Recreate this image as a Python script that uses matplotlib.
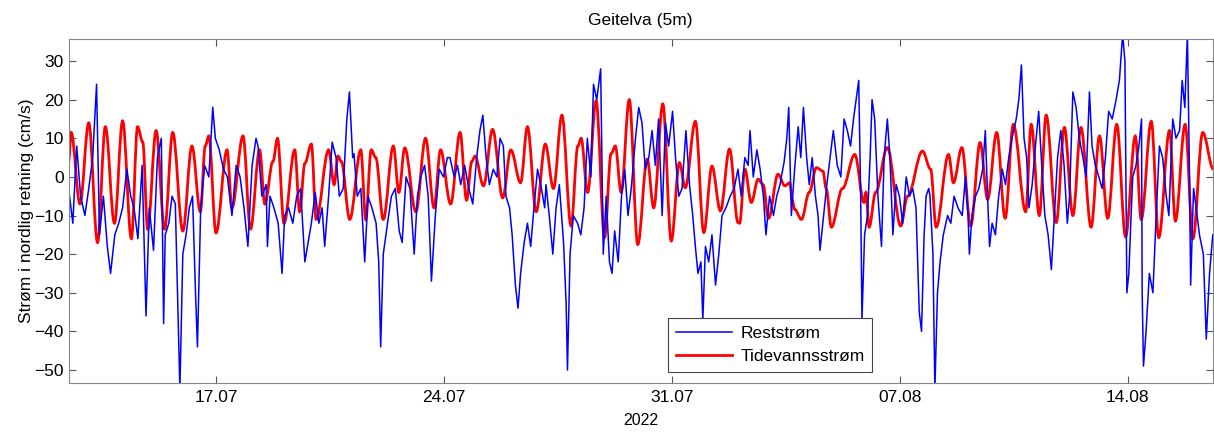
import numpy as np
import pandas as pd
import matplotlib
matplotlib.use('Agg')
import matplotlib.pyplot as plt
import matplotlib.dates as mdates
from matplotlib.path import Path
from matplotlib.patches import PathPatch
from matplotlib.lines import Line2D

plt.rcParams['font.family'] = ['Liberation Sans', 'DejaVu Sans']

# # Data (days after 12.07.2022 00:00, values in cm/s)

start = pd.Timestamp('2022-07-12')

rest_days = [
    0.46, 0.59, 0.71, 0.83, 0.96, 1.08, 1.20, 1.32, 1.41, 1.53, 1.65, 1.75, 1.88, 2.00, 2.12, 2.25,
    2.37, 2.47, 2.59, 2.72, 2.84, 2.94, 3.07, 3.19, 3.31, 3.38,
    3.43, 3.54, 3.64, 3.74, 3.88, 3.97, 4.07, 4.17, 4.27, 4.36, 4.42, 4.52, 4.64, 4.77, 4.89, 4.97,
    5.09, 5.22, 5.34, 5.48, 5.61, 5.73, 5.85, 5.97, 6.10, 6.22,
    6.28, 6.40, 6.53, 6.57, 6.65, 6.77, 6.90, 7.02, 7.10, 7.22, 7.35, 7.47, 7.59, 7.72, 7.82, 7.92,
    8.04, 8.15, 8.25, 8.33, 8.45, 8.56, 8.68, 8.78, 8.90, 9.01, 9.09, 9.19,
    9.23, 9.33, 9.44, 9.56, 9.66, 9.78, 9.91, 9.99, 10.05, 10.13, 10.26, 10.38, 10.50, 10.62, 10.71,
    10.83, 10.95, 11.08, 11.18, 11.28, 11.40, 11.51, 11.61, 11.73, 11.85, 11.98, 12.10,
    12.18, 12.31, 12.41, 12.51, 12.63, 12.76, 12.88, 13.00, 13.10, 13.19, 13.29, 13.39, 13.51, 13.62,
    13.72, 13.82, 13.90, 14.01, 14.09, 14.19, 14.27, 14.35, 14.46, 14.56, 14.66, 14.76, 14.87, 14.97, 15.09,
    15.13, 15.23, 15.34, 15.44, 15.54, 15.67, 15.75, 15.79, 15.87, 15.97, 16.10, 16.20, 16.30, 16.40,
    16.51, 16.59, 16.69, 16.81, 16.89, 16.98, 17.08, 17.16, 17.24, 17.35, 17.45, 17.55, 17.65, 17.75,
    17.88, 17.98,
    18.08, 18.18, 18.29, 18.39, 18.49, 18.59, 18.70, 18.80, 18.90, 19.02, 19.11, 19.21, 19.31, 19.43,
    19.54, 19.64, 19.72, 19.80, 19.89, 19.95, 20.03, 20.13, 20.23, 20.34, 20.44, 20.54, 20.66, 20.79, 20.91,
    21.03, 21.13, 21.24, 21.34, 21.40, 21.50, 21.61, 21.71, 21.81, 21.89, 22.00, 22.12, 22.22, 22.32,
    22.45, 22.53, 22.59, 22.67, 22.77, 22.88, 22.96, 23.04, 23.14, 23.22, 23.31, 23.41, 23.49, 23.55,
    23.66, 23.76, 23.86, 23.96,
    24.08, 24.19, 24.29, 24.39, 24.49, 24.58, 24.66, 24.74, 24.80, 24.84, 24.92, 25.01, 25.09, 25.15,
    25.23, 25.33, 25.44, 25.52, 25.62, 25.70, 25.79, 25.89, 25.99, 26.09, 26.20, 26.30, 26.40, 26.50,
    26.60, 26.67, 26.75, 26.81, 26.89,
    26.93, 27.02, 27.08, 27.16, 27.24, 27.34, 27.47, 27.57, 27.67, 27.79, 27.92, 28.02, 28.10, 28.14,
    28.22, 28.33, 28.43, 28.55, 28.63, 28.70, 28.76, 28.84, 28.94, 29.04, 29.15, 29.25, 29.35, 29.45,
    29.58, 29.66, 29.74, 29.82, 29.90,
    29.97, 30.07, 30.17, 30.27, 30.35, 30.46, 30.56, 30.66, 30.74, 30.85, 30.95, 31.05, 31.15, 31.22,
    31.32, 31.42, 31.52, 31.63, 31.73, 31.83, 31.91, 32.01, 32.12, 32.22, 32.32, 32.42, 32.53, 32.65,
    32.75, 32.85, 32.92, 32.96, 32.98, 33.04, 33.10, 33.16, 33.26, 33.35, 33.43, 33.45, 33.49, 33.57,
    33.67, 33.78, 33.88, 33.98, 34.08, 34.19, 34.27, 34.39, 34.49, 34.60, 34.68, 34.76, 34.84, 34.90,
    34.94, 35.03, 35.11, 35.21, 35.33, 35.42, 35.52, 35.62,
]
rest_vals = [
    -3, -12, 8, -5, -10, -3, 5, 24, -15, -5, -18, -25, -15, -12, -8, 2,
    -5, -8, -16, 3, -36, -8, -19, 5, 10, -38,
    -15, -12, -5, -7, -55, -20, -15, -8, -5, -30, -44, -8, 3, 0, 18, 10,
    7, 2, 0, -10, 3, 0, -8, -18, 3, 10,
    8, -5, -2, -18, -5, -8, -12, -25, -10, -8, -12, -5, -3, -22, -17, -12,
    -4, -12, -8, -18, -5, 9, 5, -5, -3, 15, 22, 5,
    6, -5, -3, -22, -5, -8, -12, -22, -44, -20, -12, -5, -3, -14, -17,
    0, -3, -20, -5, 0, 3, -5, -27, -10, 2, 0, 5,
    5, 0, 3, -2, 3, -3, -7, 5, 12, 16, 5, -2, 2, 0,
    10, 8, -5, -8, -15, -28, -34, -25, -17, -12, -18, -8, 2, -2, -8,
    -2, -10, -20, -8, -2, -17, -33, -50, -20, -10, -12, -15, -8, 10,
    0, 24, 20, 28, -20, -5, -22, -25, -14, -22, -5, 2, -10, -3,
    10, 18,
    14, 2, 5, 12, 3, 15, -10, 14, 8, 17, 5, -5, -3, 12,
    -2, -10, -18, -25, -22, -37, -18, -22, -15, -28, -20, -10, -8, -5, -3,
    2, -5, 5, 3, 12, 0, 7, 2, -5, -15, -5, -10, -5, -2,
    4, 10, 18, -10, 2, 13, 5, 18, 5, -2, 5, -5, -10, -19,
    -10, -2, 5, 12,
    3, 0, 15, 12, 8, 15, 20, 25, -5, -37, -15, -10, 5, 20,
    15, -5, -18, 5, 15, 5, -15, -2, -5, -12, 0, -5, -3, -8,
    -35, -40, -15, -5, -3,
    -5, -20, -55, -30, -22, -15, -10, -12, -5, -8, -10, 0, -10, -20,
    -10, -5, -3, 2, 12, -5, -18, -12, -15, -5, 2, -2, 5, 10,
    15, 20, 29, 10, 5,
    -8, -2, 8, 17, 5, -10, -15, -24, -12, 5, 12, 3, -12, -5,
    22, 18, 10, 5, 0, 22, 8, 3, 0, -3, 5, 17, 15, 20,
    25, 37, 30, -10, -30, -25, -12, 0, 3, 8, 15, -30, -49, -40,
    -25, -30, -10, 8, 5, -5, -10, 15, 10, 12, 25, 18, 37, 3,
    -28, -3, -8, -15, -20, -42, -25, -15,
]

# tidal current: turning points (highs, lows, shoulders)
tide_days = [
    0.46, 0.54, 0.81, 1.08, 1.35, 1.59, 1.87, 2.12, 2.39, 2.58, 2.74, 2.89, 3.15,
    3.41, 3.66, 3.97, 4.25, 4.51, 4.66, 4.77, 4.99, 5.33, 5.48, 5.82, 6.05,
    6.33, 6.49, 6.74, 6.88, 7.08, 7.41, 7.56, 7.72, 7.92, 8.07, 8.45, 8.62, 8.74, 8.84, 9.10,
    9.44, 9.59, 9.76, 9.90, 10.13, 10.44, 10.61, 10.79, 11.13, 11.43, 11.69, 11.89, 12.20,
    12.49, 12.69, 12.85, 12.95, 13.21, 13.49, 13.80, 14.05, 14.35, 14.56, 14.83, 15.11,
    15.36, 15.62, 15.90, 16.11, 16.21, 16.41, 16.67, 16.93, 17.13, 17.26, 17.44, 17.69, 17.95,
    18.24, 18.44, 18.72, 18.98, 19.23, 19.41, 19.72, 19.98, 20.23, 20.49, 20.77, 21.03,
    21.08, 21.24, 21.44, 21.65, 21.80, 21.97, 22.26, 22.47, 22.62, 22.70, 22.77, 22.98,
    23.22, 23.44, 23.64, 23.74, 23.90,
    24.24, 24.62, 24.90, 24.96, 25.06, 25.26, 25.62, 26.03, 26.24, 26.70, 26.95,
    27.12, 27.50, 27.65, 27.91, 28.18, 28.47, 28.70, 28.98, 29.24, 29.49, 29.87,
    30.04, 30.29, 30.50, 30.81, 31.06, 31.32, 31.57, 31.88, 32.14, 32.39, 32.67,
    32.94, 33.24, 33.42, 33.73, 33.96, 34.29, 34.47, 34.77, 35.01, 35.31, 35.64,
]
tide_vals = [
    4, 11.5, -7, 14, -17, 13, -12, 14.5, -16, 13, 9, -13.5, 12,
    -13.5, 11.5, -14, 8, -9, 8, 10.6, -14.5, 7, -8, 10.6, -13.5,
    7, -7, 4, 10, -12, 7, -9, 3.5, 8.5, -11, 7, -2, 5.4, 4, -11,
    7, -11, 7, 5, -11, 8, -4, 7.5, -9, 10, -8, 7, -7,
    11.5, -6, 4, 5.4, -2.3, 12.3, -5.4, 7, -1.5, 13, -9, 8.5,
    -3, 16, -12.7, 8, 10, -4, 19.7, -15.7, 6, 8, -4, 20, -17.5,
    4.6, -8, 18.9, -16.6, 3.7, -2.8, 14.4, -14.4, 2.8, -8.8, 7.2, -11.8,
    -12, 2, -6.6, -0.6, -2, -10.7, 0.7, -2.3, -1.5, -6, -8.4, -11,
    -4, 2.4, 1.5, -3, -13,
    -3, 5.8, -6.6, -4, -13, -4, 7.6, -12.7, -5, 6.7, 2,
    -13, 5.8, -1.5, 7.6, -12.7, 8.9, -5.8, 11.5, -10.7, 13.6, -9,
    13.6, -10, 16, -11.8, 12.8, -10, 12.8, -13, 10.6, -10.7, 13.6,
    -15.5, 10.6, -11, 14.4, -15.7, 12, -11.4, 13.6, -16, 11.5, 2,
]

rest_t = start + pd.to_timedelta(rest_days, unit='D')
tide_t = start + pd.to_timedelta(tide_days, unit='D')

# # Plot

fig = plt.figure(figsize=(12.14, 4.32), dpi=100)
ax = fig.add_axes([0.0566, 0.1141, 0.9424, 0.7963])

ax.plot(rest_t, rest_vals, color='#0000ff', lw=1.1)

# tidal curve: smooth bezier segments between the turning points
tx = mdates.date2num(tide_t)
verts = [(tx[0], tide_vals[0])]
codes = [Path.MOVETO]
for i in range(1, len(tx)):
    dt = tx[i] - tx[i-1]
    verts += [(tx[i-1] + 0.36*dt, tide_vals[i-1]),
              (tx[i] - 0.36*dt, tide_vals[i]),
              (tx[i], tide_vals[i])]
    codes += [Path.CURVE4] * 3
ax.add_patch(PathPatch(Path(verts, codes), fill=False, edgecolor='#ff0000', lw=2.0))

ax.set_xlim(start + pd.Timedelta(days=0.464), start + pd.Timedelta(days=35.62))
ax.set_ylim(-53.3, 35.8)
ax.set_yticks(np.arange(-50, 31, 10))

ticks = pd.to_datetime(['2022-07-17', '2022-07-24', '2022-07-31', '2022-08-07', '2022-08-14'])
ax.set_xticks(ticks)
ax.xaxis.set_major_formatter(mdates.DateFormatter('%d.%m'))

ax.tick_params(direction='in', top=True, right=True, labelsize=12.5, length=5, color='#555555')
ax.tick_params(axis='x', pad=5)
for s in ax.spines.values():
    s.set_color('#888888')
    s.set_linewidth(0.8)

ax.set_title('Geitelva (5m)', fontsize=12.5, pad=10)
ax.set_ylabel('Strøm i nordlig retning (cm/s)', fontsize=12.5, labelpad=0)
ax.set_xlabel('2022', fontsize=11.5, labelpad=6)

handles = [Line2D([], [], color='#0000ff', lw=1.1),
           Line2D([], [], color='#ff0000', lw=2.0)]
leg = ax.legend(handles, ['Reststrøm', 'Tidevannsstrøm'], loc='lower left',
                bbox_to_anchor=(0.524, 0.031), fontsize=12.5, fancybox=False, framealpha=1,
                edgecolor='#444444', handlelength=3.2, borderaxespad=0, borderpad=0.45,
                labelspacing=0.45, handletextpad=0.5)
leg.get_frame().set_linewidth(0.8)

fig.savefig('out.png', dpi=100)
